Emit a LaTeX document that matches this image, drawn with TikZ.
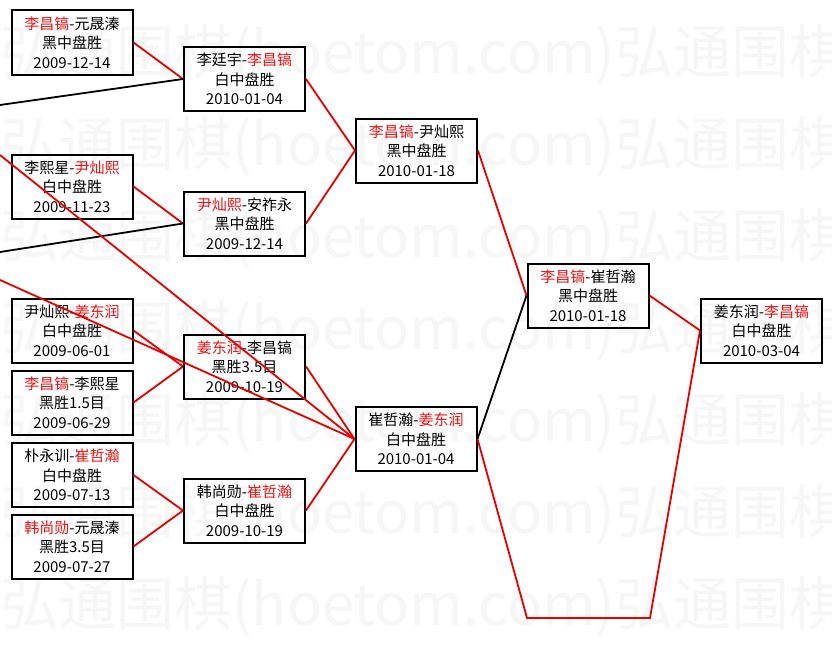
\documentclass[tikz,border=0pt]{standalone}
\usepackage{fontspec}
\setmainfont{Noto Sans CJK SC}
\definecolor{winred}{RGB}{235,20,20}
\definecolor{linered}{RGB}{230,0,0}
\definecolor{wmgray}{RGB}{246,246,246}
\newcommand{\W}[1]{\textcolor{winred}{#1}}
\tikzset{
  game/.style={draw=black, line width=2pt, minimum width=121pt, minimum height=64pt,
    inner sep=0pt, align=center, font=\fontsize{15}{19.5}\selectfont},
  winline/.style={draw=linered, line width=1.8pt},
  loseline/.style={draw=black, line width=1.8pt},
  wmark/.style={anchor=west, text=wmgray, inner sep=0pt, font=\fontsize{58}{60}\selectfont}
}
\begin{document}
\begin{tikzpicture}[x=1pt,y=-1pt]
\useasboundingbox[fill=white] (0,0) rectangle (832,661);
% watermark
\foreach \yy [count=\i] in {55,147,239,331,423,515,607}{
  \node[wmark] (wm\i) at (0,\yy) {弘通围棋(hoetom.com)弘通围棋(hoetom.com)};
}
% games
\node[game] (b1) at (72,42.5) {\W{李昌镐}-元晟溱\\黑中盘胜\\2009-12-14};
\node[game] (b2) at (244.5,79) {李廷宇-\W{李昌镐}\\白中盘胜\\2010-01-04};
\node[game] (b3) at (72,186.5) {李熙星-\W{尹灿熙}\\白中盘胜\\2009-11-23};
\node[game] (b4) at (244.5,223.5) {\W{尹灿熙}-安祚永\\黑中盘胜\\2009-12-14};
\node[game] (b5) at (72,330.5) {尹灿熙-\W{姜东润}\\白中盘胜\\2009-06-01};
\node[game] (b6) at (72,402.5) {\W{李昌镐}-李熙星\\黑胜1.5目\\2009-06-29};
\node[game] (b7) at (244.5,366.5) {\W{姜东润}-李昌镐\\黑胜3.5目\\2009-10-19};
\node[game] (b8) at (72,475) {朴永训-\W{崔哲瀚}\\白中盘胜\\2009-07-13};
\node[game] (b9) at (72,546.5) {\W{韩尚勋}-元晟溱\\黑胜3.5目\\2009-07-27};
\node[game] (b10) at (244.5,510.5) {韩尚勋-\W{崔哲瀚}\\白中盘胜\\2009-10-19};
\node[game] (b11) at (416.5,150.5) {\W{李昌镐}-尹灿熙\\黑中盘胜\\2010-01-18};
\node[game] (b12) at (416,439) {崔哲瀚-\W{姜东润}\\白中盘胜\\2010-01-04};
\node[game] (b13) at (588,295.5) {\W{李昌镐}-崔哲瀚\\黑中盘胜\\2010-01-18};
\node[game] (b14) at (761.5,330.5) {姜东润-\W{李昌镐}\\白中盘胜\\2010-03-04};
% free ends
\coordinate (l1) at (0,105);
\coordinate (l2) at (0,155);
\coordinate (l3) at (0,252);
\coordinate (l4) at (0,280);
\coordinate (c1) at (527,618);
\coordinate (c2) at (650,618);
% connectors
\draw[winline] (b1.east) -- (b2.west);
\draw[loseline] (l1) -- (b2.west);
\draw[winline] (b3.east) -- (b4.west);
\draw[loseline] (l3) -- (b4.west);
\draw[winline] (l2) -- (b12.west);
\draw[winline] (l4) -- (b12.west);
\draw[winline] (b2.east) -- (b11.west);
\draw[winline] (b4.east) -- (b11.west);
\draw[winline] (b5.east) -- (b7.west);
\draw[winline] (b6.east) -- (b7.west);
\draw[winline] (b8.east) -- (b10.west);
\draw[winline] (b9.east) -- (b10.west);
\draw[winline] (b7.east) -- (b12.west);
\draw[winline] (b10.east) -- (b12.west);
\draw[winline] (b11.east) -- (b13.west);
\draw[loseline] (b12.east) -- (b13.west);
\draw[winline] (b13.east) -- (b14.west);
\draw[winline, line join=miter] (b12.east) -- (c1) -- (c2) -- (b14.west);
\end{tikzpicture}
\end{document}
